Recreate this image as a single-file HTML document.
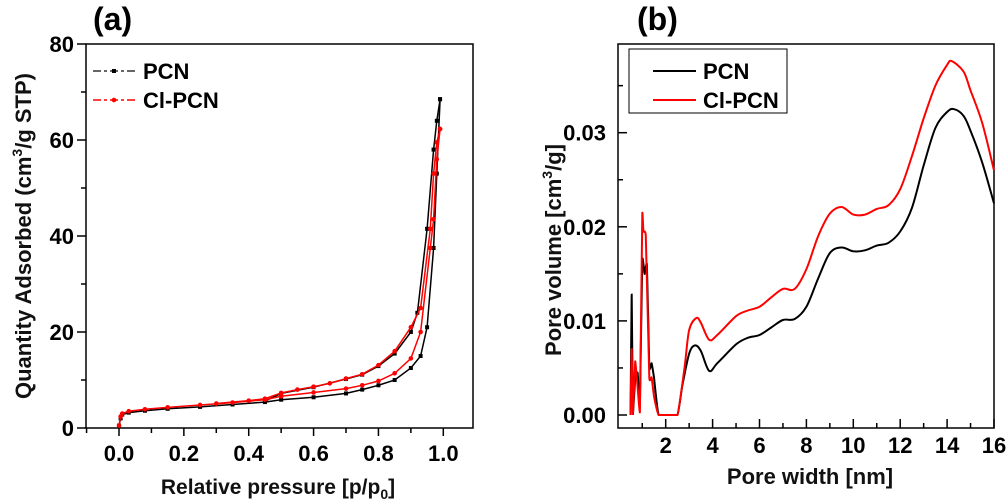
<!DOCTYPE html>
<html><head><meta charset="utf-8"><style>
html,body{margin:0;padding:0;background:#fff}
svg{display:block;font-family:"Liberation Sans",Arial,sans-serif;font-weight:bold}
</style></head><body>
<svg id="c" width="1008" height="504" viewBox="0 0 1008 504"></svg>
<script>
// Panel (a) data: nitrogen isotherms [relative pressure, quantity adsorbed]
const pcnAdsX=[0,0.005,0.01,0.03,0.08,0.15,0.25,0.35,0.45,0.5,0.6,0.7,0.75,0.8,0.85,0.9,0.93,0.95,0.97,0.98,0.99];
const pcnAdsY=[0.5,2,2.8,3.2,3.6,4,4.4,4.9,5.4,5.9,6.4,7.2,8,8.9,10,12.5,15,21,37.5,53,68.5];
const pcnDesX=[0.99,0.98,0.97,0.95,0.92,0.9,0.85,0.8,0.75,0.7,0.6,0.5,0.45];
const pcnDesY=[68.5,64,58,41.5,24,20,15.5,12.9,11.1,10.2,8.5,7.2,5.6];
const clAdsX=[0,0.005,0.01,0.03,0.08,0.15,0.25,0.35,0.45,0.5,0.6,0.7,0.75,0.8,0.85,0.9,0.93,0.96,0.97,0.98,0.99];
const clAdsY=[0.5,2.4,3,3.5,3.9,4.3,4.8,5.3,5.9,6.6,7.4,8.2,8.9,9.8,11.4,14.5,20,37.5,43.5,56,62.3];
const clDesX=[0.99,0.98,0.97,0.96,0.93,0.9,0.85,0.8,0.75,0.7,0.65,0.6,0.55,0.5,0.45,0.4,0.3];
const clDesY=[62.3,59.5,53,41.5,25,21,16,13.1,11.2,10.3,9.3,8.6,8,7.3,6.1,5.7,5.1];
const aXTicks=[0,0.2,0.4,0.6,0.8,1.0];
const aXTickLabels=["0.0","0.2","0.4","0.6","0.8","1.0"];
const aYTicks=[0,20,40,60,80];
// Panel (b) data: pore size distribution [pore width nm, pore volume]
const poreX_pcn=[0.5,0.55,0.6,0.7,0.8,0.9,1.0,1.1,1.2,1.3,1.4,1.5,1.7,2.5,2.7,3.0,3.25,3.5,3.85,4.2,5,5.5,6,6.5,7,7.5,8,8.5,9,9.5,10,10.5,11,11.5,12,12.5,13,13.5,14,14.3,14.7,15,15.5,16];
const poreY_pcn=[0,0.0128,0,0.004,0.0045,0.001,0.0165,0.015,0.016,0.005,0.0055,0.004,0,0,0.003,0.0065,0.0074,0.0068,0.0047,0.0055,0.0075,0.0082,0.0085,0.0093,0.0101,0.0102,0.0115,0.0145,0.0172,0.0178,0.0174,0.0175,0.018,0.0183,0.0195,0.022,0.0265,0.0305,0.0322,0.0325,0.0318,0.0302,0.0268,0.0225];
const poreX_cl=[0.5,0.55,0.6,0.7,0.8,0.9,1.0,1.05,1.15,1.3,1.4,1.5,1.7,2.5,2.8,3.0,3.3,3.5,3.85,4.2,5,5.5,6,6.5,7,7.5,8,8.5,9,9.5,10,10.5,11,11.5,12,12.5,13,13.5,14,14.2,14.7,15,15.5,16];
const poreY_cl=[0,0.007,0,0.0057,0.003,0.0003,0.0213,0.0195,0.019,0.004,0.004,0.002,0,0,0.005,0.009,0.0103,0.0098,0.008,0.0085,0.0105,0.0111,0.0115,0.0125,0.0134,0.0134,0.0155,0.019,0.0214,0.0221,0.0213,0.0213,0.0219,0.0223,0.024,0.0275,0.0315,0.035,0.0372,0.0376,0.0365,0.0345,0.031,0.026];
const bXTicks=[2,4,6,8,10,12,14,16];
const bYTicks=[0,0.01,0.02,0.03];
const bYTickLabels=["0.00","0.01","0.02","0.03"];

const NS="http://www.w3.org/2000/svg";
const svg=document.getElementById('c');
function el(tag,attrs,parent,text){const e=document.createElementNS(NS,tag);for(const k in attrs)e.setAttribute(k,attrs[k]);if(text!==undefined)e.textContent=text;(parent||svg).appendChild(e);return e;}

// ---------- Panel A ----------
const ax=v=>119+(v-0)*324.3;
const ay=v=>428-v*4.8;
const gA=el('g',{});


const ta=el('text',{x:93,y:30,'font-size':32,fill:'#000'},gA,'(a)');


const fa=el('rect',{x:86,y:44,width:387,height:384,fill:'none',stroke:'#000','stroke-width':1.5},gA);


for(let v=0;v<=80;v+=10){const y=ay(v);el('line',{x1:v%20==0?77:81,x2:86,y1:y,y2:y,stroke:'#000','stroke-width':1.5},gA);}
aYTicks.forEach(v=>{const t=el('text',{x:74,y:ay(v)+8,'font-size':22,'text-anchor':'end'},gA,String(v));

});
for(let v=-0.1;v<=1.051;v+=0.1){const x=ax(v);const major=Math.round(v*10)%2==0;el('line',{x1:x,x2:x,y1:428,y2:major?436:433,stroke:'#000','stroke-width':1.5},gA);}
aXTicks.forEach((v,i)=>{const t=el('text',{x:ax(v),y:461,'font-size':22,'text-anchor':'middle'},gA,aXTickLabels[i]);

});
const xta=el('text',{x:278,y:494,'font-size':21,'text-anchor':'middle',fill:'#111'},gA);


xta.innerHTML='Relative pressure [p/p<tspan font-size="14" dy="5">0</tspan><tspan dy="-5">]</tspan>';
const yta=el('text',{transform:'translate(31,236) rotate(-90)','font-size':22,'text-anchor':'middle',fill:'#111'},gA);


yta.innerHTML='Quantity Adsorbed (cm<tspan font-size="14" dy="-9">3</tspan><tspan dy="9">/g STP)</tspan>';
function series(xs,ys,color,marker,name,sx,sy,parent){
  const d=xs.map((x,i)=>(i?'L':'M')+sx(x).toFixed(1)+','+sy(ys[i]).toFixed(1)).join(' ');
  const p=el('path',{d:d,fill:'none',stroke:color,'stroke-width':1.5},parent);
  
  
  if(marker)xs.forEach((x,i)=>{
    let m;
    if(marker=='sq')m=el('rect',{x:sx(x)-2,y:sy(ys[i])-2,width:4,height:4,fill:color},parent);
    else m=el('circle',{cx:sx(x),cy:sy(ys[i]),r:2.3,fill:color},parent);
    
    
  });
}
series(pcnAdsX,pcnAdsY,'#000','sq','pcn-adsorption',ax,ay,gA);
series(pcnDesX,pcnDesY,'#000','sq','pcn-desorption',ax,ay,gA);
series(clAdsX,clAdsY,'#f00','c','cl-pcn-adsorption',ax,ay,gA);
series(clDesX,clDesY,'#f00','c','cl-pcn-desorption',ax,ay,gA);
// legend a
const la=el('g',{},gA);


el('line',{x1:93,x2:136,y1:71,y2:71,stroke:'#333','stroke-width':1.5,'stroke-dasharray':'8,3,3,3'},la);
el('rect',{x:112,y:69,width:4,height:4,fill:'#000'},la);
el('text',{x:143,y:79,'font-size':22},la,'PCN');
el('line',{x1:93,x2:136,y1:100,y2:100,stroke:'#f00','stroke-width':1.5,'stroke-dasharray':'8,3,3,3'},la);
el('circle',{cx:114,cy:100,r:2.3,fill:'#f00'},la);
el('text',{x:143,y:108,'font-size':22},la,'Cl-PCN');

// ---------- Panel B ----------
const bx=v=>618.8+v*23.45;
const by=v=>415-v*9410;
const gB=el('g',{});


const tb=el('text',{x:637,y:30,'font-size':32,fill:'#000'},gB,'(b)');


const fb=el('rect',{x:618,y:44,width:376,height:384,fill:'none',stroke:'#000','stroke-width':1.5},gB);


for(let v=0;v<=0.0351;v+=0.005){const y=by(v);el('line',{x1:618,x2:Math.round(v*1000)%10==0?627:623,y1:y,y2:y,stroke:'#000','stroke-width':1.5},gB);}
bYTicks.forEach((v,i)=>{const t=el('text',{x:606,y:by(v)+8,'font-size':22,'text-anchor':'end'},gB,bYTickLabels[i]);

});
for(let v=1;v<=16;v++){const x=bx(v);el('line',{x1:x,x2:x,y1:428,y2:v%2==0?419:423,stroke:'#000','stroke-width':1.5},gB);}
bXTicks.forEach(v=>{const t=el('text',{x:bx(v),y:453,'font-size':22,'text-anchor':'middle'},gB,String(v));

});
const xtb=el('text',{x:810,y:484,'font-size':22,'text-anchor':'middle',fill:'#111'},gB,'Pore width [nm]');


const ytb=el('text',{transform:'translate(561,250) rotate(-90)','font-size':22,'text-anchor':'middle',fill:'#111'},gB);


ytb.innerHTML='Pore volume [cm<tspan font-size="14" dy="-9">3</tspan><tspan dy="9">/g]</tspan>';
function smooth(xs,ys,color,name){
  const P=xs.map((x,i)=>[bx(x),by(ys[i])]);
  const ymax=by(0);
  let d='M'+P[0][0]+','+P[0][1];
  for(let i=0;i<P.length-1;i++){
    const p0=P[i-1]||P[i],p1=P[i],p2=P[i+1],p3=P[i+2]||P[i+1];
    const k=(xs[i]<2.6)?0.05:1/6;
    const c1y=Math.min(ymax,p1[1]+(p2[1]-p0[1])*k), c2y=Math.min(ymax,p2[1]-(p3[1]-p1[1])*k);
    d+=' C'+(p1[0]+(p2[0]-p0[0])*k).toFixed(1)+','+c1y.toFixed(1)+' '+(p2[0]-(p3[0]-p1[0])*k).toFixed(1)+','+c2y.toFixed(1)+' '+p2[0].toFixed(1)+','+p2[1].toFixed(1);
  }
  const p=el('path',{d:d,fill:'none',stroke:color,'stroke-width':2},gB);
  
  
}
smooth(poreX_pcn,poreY_pcn,'#000','pcn-pore-line');
smooth(poreX_cl,poreY_cl,'#f00','cl-pcn-pore-line');
const lb=el('g',{},gB);


el('rect',{x:629,y:49,width:158,height:64,fill:'#fff',stroke:'#000','stroke-width':1},lb);
el('line',{x1:653,x2:696,y1:71,y2:71,stroke:'#000','stroke-width':2},lb);
el('text',{x:703,y:79,'font-size':22},lb,'PCN');
el('line',{x1:653,x2:696,y1:100,y2:100,stroke:'#f00','stroke-width':2},lb);
el('text',{x:703,y:108,'font-size':22},lb,'Cl-PCN');
</script>
</body></html>
